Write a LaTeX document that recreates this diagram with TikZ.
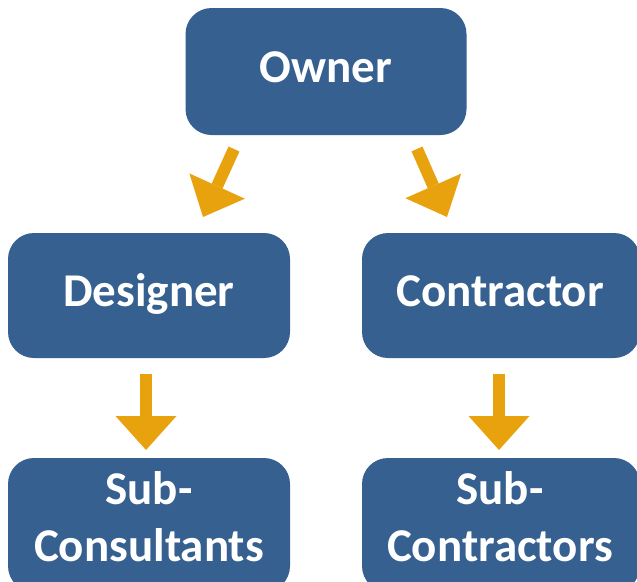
\documentclass[tikz,border=0pt]{standalone}
\usepackage{fontspec}
\setmainfont{Carlito}
\usetikzlibrary{arrows.meta}
\definecolor{boxblue}{HTML}{35608F}
\definecolor{arrorange}{HTML}{E8A20E}
\tikzset{
  box/.style={fill=boxblue, draw=none, rounded corners=26pt, inner sep=0pt},
  lbl/.style={text=white, font=\fontsize{47}{57}\selectfont\bfseries, inner sep=0pt, align=center},
  onelbl/.style={lbl, text height=32pt, text depth=10pt},
  blockarrow/.style={draw=arrorange, line width=12pt,
    -{Triangle[width=61pt,length=34pt,line width=0pt]}}
}
\begin{document}
\begin{tikzpicture}[x=1pt,y=-1pt]
\useasboundingbox (0,0) rectangle (637,581);
% boxes
\node[box, minimum width=281pt, minimum height=127pt] (owner) at (326,71.5) {};
\node[box, minimum width=282pt, minimum height=125pt] (designer) at (149,295.5) {};
\node[box, minimum width=278pt, minimum height=125pt] (contractor) at (501,295.5) {};
\node[box, minimum width=282pt, minimum height=134pt] (subcons) at (149,525) {};
\node[box, minimum width=278pt, minimum height=134pt] (subcontr) at (501,525) {};
% labels
\node[onelbl] (ownert) at (326,71.5) {Owner};
\node[onelbl] (designert) at (149,295.5) {Designer};
\node[onelbl] (contractort) at (500,295.5) {Contractor};
\node[lbl] (subconst) at (149,517) {Sub-\\Consultants};
\node[lbl] (subcontrt) at (500,517) {Sub-\\Contractors};
% arrows
\coordinate (a1s) at (234,149); \coordinate (a1e) at (203,217);
\coordinate (a2s) at (417,149); \coordinate (a2e) at (447,217);
\coordinate (a3s) at (146,374); \coordinate (a3e) at (146,450);
\coordinate (a4s) at (499,374); \coordinate (a4e) at (499,450);
\draw[blockarrow] (a1s) -- (a1e);
\draw[blockarrow] (a2s) -- (a2e);
\draw[blockarrow] (a3s) -- (a3e);
\draw[blockarrow] (a4s) -- (a4e);
\end{tikzpicture}
\end{document}
